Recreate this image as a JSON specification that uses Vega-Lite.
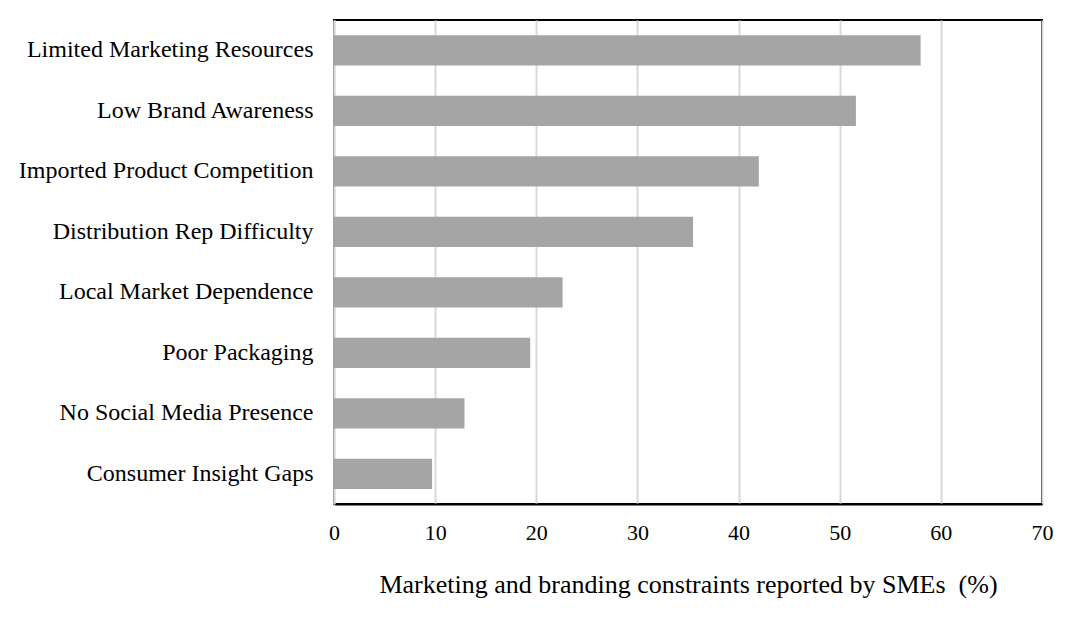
{
  "$schema": "https://vega.github.io/schema/vega-lite/v6.json",
  "autosize": {"type": "none"},
  "width": 708,
  "height": 484,
  "padding": {"left": 334, "top": 20, "right": 24, "bottom": 120},
  "background": "white",
  "data": {"values": [
    {"constraint": "Limited Marketing Resources", "pct": 58.0},
    {"constraint": "Low Brand Awareness", "pct": 51.6},
    {"constraint": "Imported Product Competition", "pct": 42.0},
    {"constraint": "Distribution Rep Difficulty", "pct": 35.5},
    {"constraint": "Local Market Dependence", "pct": 22.6},
    {"constraint": "Poor Packaging", "pct": 19.4},
    {"constraint": "No Social Media Presence", "pct": 12.9},
    {"constraint": "Consumer Insight Gaps", "pct": 9.7}
  ]},
  "mark": {"type": "bar", "color": "#a5a5a5"},
  "encoding": {
    "y": {
      "field": "constraint", "type": "nominal", "sort": "-x",
      "scale": {"paddingInner": 0.5, "paddingOuter": 0.25},
      "axis": {
        "title": null, "ticks": false, "domainColor": "#d9d9d9", "domainWidth": 2,
        "labelFont": "Liberation Serif", "labelFontSize": 24, "labelColor": "#000000",
        "labelPadding": 21, "labelLimit": 400
      }
    },
    "x": {
      "field": "pct", "type": "quantitative",
      "scale": {"domain": [0, 70], "nice": false},
      "axis": {
        "title": "Marketing and branding constraints reported by SMEs\u00a0 (%)",
        "values": [0, 10, 20, 30, 40, 50, 60, 70],
        "ticks": false, "domainColor": "#000000", "domainWidth": 2,
        "grid": true, "gridColor": "#d9d9d9", "gridWidth": 2,
        "labelFont": "Liberation Serif", "labelFontSize": 22, "labelColor": "#000000",
        "labelPadding": 18, "labelFlush": false,
        "titleFont": "Liberation Serif", "titleFontSize": 26, "titleFontWeight": "normal",
        "titleColor": "#000000", "titlePadding": 28
      }
    }
  },
  "config": {
    "view": {"stroke": "#000000", "strokeWidth": 2}
  }
}
